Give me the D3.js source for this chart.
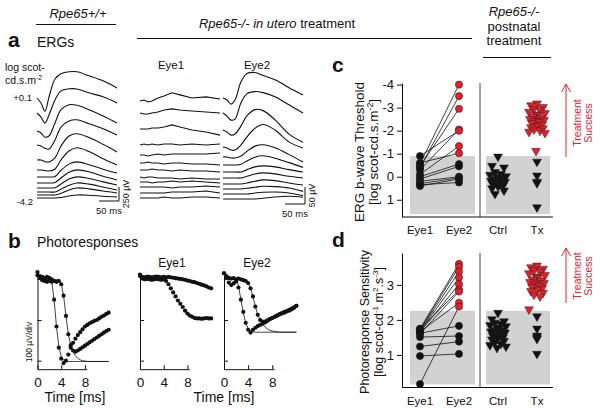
<!DOCTYPE html>
<html>
<head>
<meta charset="utf-8">
<script src="https://cdn.jsdelivr.net/npm/d3@7"></script>
<style>
  body { margin: 0; background: #fff; }
  svg { display: block; font-family: "Liberation Sans", Arial, sans-serif; }
</style>
</head>
<body>
<svg id="fig" width="600" height="408"></svg>
<script>
// ---- ERG traces (µV) sampled at these times (ms) ----
const ergTimes = [0, 10, 20, 30, 45, 60, 80, 100, 130, 165, 200];
const wtTraces = [
  [0, -90, -234, 18, 340, 432, 468, 468, 396, 306, 180],
  [0, -72, -180, -36, 234, 396, 432, 430, 360, 290, 180],
  [0, -36, -110, -90, 144, 380, 468, 460, 380, 270, 144],
  [0, -18, -60, -72, 90, 320, 430, 450, 380, 290, 180],
  [0, 0, -30, -36, 36, 250, 430, 470, 400, 280, 144],
  [0, 0, -10, -18, 18, 180, 340, 396, 330, 200, 90],
  [0, 0, 0, 0, 10, 120, 230, 270, 220, 140, 72],
  [0, 0, 0, 0, 10, 90, 190, 234, 200, 120, 54],
  [0, 0, 0, 0, 5, 70, 160, 198, 170, 110, 54],
  [0, 0, 0, 0, 0, 50, 120, 162, 140, 90, 36],
  [0, 0, 0, 0, 0, 30, 90, 126, 110, 70, 36],
  [0, 0, 0, 0, 0, 10, 36, 54, 50, 30, 18]
];
const eye1Traces = [
  [0, 3, -3, 0, 9, 15, 24, 18, 9, 12, 6],
  [0, -3, -3, 0, 3, 9, 12, 9, 6, 3, 0],
  [0, 0, 0, 3, 3, 6, 12, 6, -3, -9, -18],
  [0, 3, 0, 3, 0, 3, 3, 0, 3, 0, 3],
  [0, 0, -3, 0, 3, 0, 3, 3, 3, 3, 6],
  [0, 0, 3, 0, 0, -3, 0, 0, -3, -3, -6],
  [0, 0, 0, 3, 0, 0, -3, 0, -3, -3, -6],
  [0, -3, 0, 0, -3, -3, -3, -6, -3, -6, -6],
  [0, 0, 0, -3, 0, 0, 3, 0, 3, 0, -3],
  [0, 0, 0, 0, 0, 0, -3, 0, 0, 3, 0],
  [0, 0, 0, 0, 0, 0, 3, 3, 3, 6, 0],
  [0, 0, 0, 0, 0, 3, 0, 0, 3, 3, 0]
];
const eye2Traces = [
  [0, -6, -18, -6, 48, 72, 75, 66, 54, 30, 9],
  [0, -9, -21, -18, 30, 57, 63, 60, 48, 24, 0],
  [0, -6, -15, -12, 12, 42, 60, 57, 30, -12, -36],
  [0, -3, -9, -9, 6, 30, 55, 66, 50, 15, -3],
  [0, 0, -3, -3, 3, 17, 32, 36, 27, 7, -15],
  [0, 0, 0, 0, 2, 12, 23, 27, 20, 7, -7],
  [0, 0, 0, 0, 0, 7, 15, 18, 15, 7, 0],
  [0, 0, 0, 0, 0, 5, 12, 15, 12, 5, 0],
  [0, 0, 0, 0, 0, 3, 8, 12, 10, 3, -3],
  [0, 0, 0, 0, 0, 2, 5, 8, 7, 3, -7],
  [0, 0, 0, 0, 0, 0, 3, 5, 6, 3, -5],
  [0, 0, 0, 0, 0, 0, 0, 2, 6, 8, 5]
];
const intensityLabels = ["+0.1", "-4.2"];

// ---- photoresponses (µV) at these times (ms) ----
const prTimes = [0, 0.4, 0.8, 1.2, 1.6, 2, 2.4, 2.8, 3.2, 3.6, 4, 4.4, 4.8, 5.2, 5.6, 6,
  6.4, 6.8, 7.2, 7.6, 8, 8.4, 8.8, 9.2, 9.6, 10, 10.4, 10.8, 11.2, 11.6, 12];
const wtFast = [18, 8, 6, 4, 6, 4, 0, -50, -116, -168, -195, -206, -200, -185, -168, -156,
  -146, -137, -130, -123, -116, -112, -108, -105, -102, -100, -96, -92, -89, -85, -82];
const wtSlow = [10, 4, -2, -4, -6, -4, -6, -4, -6, -4, -12, -40, -90, -135, -162, -175,
  -178, -175, -171, -167, -163, -159, -155, -151, -147, -143, -139, -135, -131, -127, -124];
const wtFastFit = [0, 0, 0, 0, 0, 0, -4, -50, -116, -165, -190, -199, -202, -202, -202, -202,
  -202, -202, -202, -202, -202, -202, -202, -202, -202, -202, -202, -202, -202, -202, -202];
const wtSlowFit = [0, 0, 0, 0, 0, 0, 0, 0, 0, 0, -10, -40, -90, -135, -162, -178,
  -188, -194, -198, -200, -201, -202, -202, -202, -202, -202, -202, -202, -202, -202, -202];
const e1Slow = [12, 6, 5, 7, 6, 5, 6, 7, 6, 5, 6, 5, 6, 5, 4, 3,
  2, 1, 0, -1, -3, -4, -6, -7, -9, -11, -13, -15, -17, -20, -22];
const e1Fast = [8, 2, 0, 1, 0, -1, 0, 1, 0, -1, 0, -4, -12, -22, -32, -42,
  -52, -60, -68, -77, -84, -89, -92, -95, -96, -96, -97, -96, -95, -96, -96];
const e2Fast = [15, 5, -8, -14, -10, -5, -20, -50, -80, -107, -124, -131, -124, -119, -115, -112,
  -109, -106, -102, -98, -95, -92, -89, -86, -84, -82, -79, -77, -74, -70, -65];
const e2Slow = [15, 8, 4, 2, 3, 0, 2, 0, -2, -4, -9, -22, -42, -67, -87, -100,
  -104, -104, -101, -98, -95, -92, -89, -86, -83, -80, -78, -75, -72, -69, -65];
const e2FastFit = [0, 0, 0, 0, 0, 0, -15, -50, -82, -107, -121, -127, -129, -130, -130, -130,
  -130, -130, -130, -130, -130, -130, -130, -130, -130, -130, -130, -130, -130, -130, -130];
const e2SlowFit = [0, 0, 0, 0, 0, 0, 0, 0, 0, 0, -8, -22, -42, -67, -87, -100,
  -110, -117, -122, -125, -127, -128, -129, -130, -130, -130, -130, -130, -130, -130, -130];
const timeTicks = [0, 4, 8];

// ---- panel c: ERG b-wave threshold (log scot-cd.s.m-2) ----
const groups = ["Eye1", "Eye2", "Ctrl", "Tx"];
const cEye1 = [-0.55, -0.4, -0.45, -0.3, -0.9, -0.1, -0.6, 0.0, 0.1, 0.2, 0.3, 0.4, 0.35];
const cEye2 = [-4.0, -3.5, -2.95, -2.05, -2.0, -1.33, -1.02, -0.55, -0.45, 0.0, 0.05, 0.1, 0.25];
const cCtrl = [-0.87, -0.47, -0.4, -0.2, -0.12, -0.08, -0.02, 0.02, 0.05, 0.1, 0.12, 0.18, 0.22,
  0.25, 0.3, 0.33, 0.38, 0.42, 0.5, 0.6, 0.75];
const cTx = [-3.18, -3.1, -3.02, -2.96, -2.9, -2.82, -2.76, -2.7, -2.66, -2.6, -2.55, -2.5, -2.46,
  -2.42, -2.38, -2.32, -2.27, -2.2, -2.15, -2.1, -2.05, -2.0, -1.95, -1.9, -1.12,
  -0.65, -0.05, 0.22, 0.28, 1.33];
const cThreshold = -0.9;
const cTicks = [-4, -3, -2, -1, 0, 1];

// ---- panel d: photoresponse sensitivity ----
const dEye1 = [1.75, 1.72, 1.70, 1.68, 1.65, 1.73, 1.60, 1.66, 0.17, 1.62, 1.51, 1.24, 0.97];
const dEye2 = [3.6, 3.52, 3.38, 3.21, 3.02, 2.86, 2.81, 2.49, 2.38, 1.83, 1.54, 1.38, 1.03];
const dCtrl = [2.2, 2.02, 1.96, 1.92, 1.88, 1.85, 1.82, 1.78, 1.75, 1.72, 1.7, 1.67, 1.64, 1.6,
  1.57, 1.54, 1.5, 1.47, 1.44, 1.4, 1.36, 1.32, 1.28, 1.24, 1.2];
const dTx = [3.55, 3.5, 3.46, 3.42, 3.38, 3.33, 3.28, 3.24, 3.2, 3.15, 3.12, 3.08, 3.05, 3.02,
  2.98, 2.94, 2.9, 2.86, 2.82, 2.77, 2.72, 2.67, 2.3, 2.1, 1.75, 1.55, 1.5, 1.46, 1.03];
const dThreshold = 2.26;
const dTicks = [1, 2, 3];

const red = "#e5202a";
const svg = d3.select("#fig");

function txt(x, y, s, size, o = {}) {
  const t = svg.append("text")
    .attr("x", x).attr("y", y)
    .attr("font-size", size)
    .attr("text-anchor", o.anchor || "start")
    .attr("font-style", o.italic ? "italic" : null)
    .attr("font-weight", o.bold ? "bold" : null)
    .attr("fill", o.fill || "#111");
  if (o.rotate) t.attr("transform", `rotate(${o.rotate},${x},${y})`);
  if (s !== null) t.text(s);
  return t;
}
// parts: [string, isSuperscript]
function rich(t, parts, size) {
  let up = false;
  parts.forEach(([s, sup]) => {
    const sp = t.append("tspan").text(s);
    if (sup) {
      sp.attr("font-size", size * 0.65);
      if (!up) { sp.attr("dy", -size * 0.4); up = true; }
    } else if (up) { sp.attr("dy", size * 0.4); up = false; }
  });
}
function hline(x1, x2, y, col = "#111") {
  svg.append("line").attr("x1", x1).attr("x2", x2).attr("y1", y).attr("y2", y)
    .attr("stroke", col).attr("stroke-width", 1);
}

// ---- headers ----
txt(78, 18, "Rpe65+/+", 13, {anchor: "middle", italic: true});
hline(36, 116, 24.5);
const h2 = txt(277, 28, null, 13, {anchor: "middle"});
h2.append("tspan").attr("font-style", "italic").text("Rpe65-/- in utero");
h2.append("tspan").text(" treatment");
hline(137, 472, 38.5);
txt(514, 16, "Rpe65-/-", 13, {anchor: "middle", italic: true});
txt(514, 31, "postnatal", 13, {anchor: "middle"});
txt(514, 45, "treatment", 13, {anchor: "middle"});
hline(483, 551, 57.5);

// ---- panel a: ERGs ----
txt(8, 47, "a", 21, {bold: true});
txt(37, 47, "ERGs", 14);
txt(5, 71, "log scot-", 10.5);
rich(txt(5, 84, null, 10.5), [["cd.s.m", 0], ["-2", 1]], 10.5);
txt(32, 101, intensityLabels[0], 9.5, {anchor: "end"});
txt(33, 205, intensityLabels[1], 9.5, {anchor: "end"});
txt(171, 69, "Eye1", 11.5, {anchor: "middle"});
txt(257, 69, "Eye2", 11.5, {anchor: "middle"});

const tScale = d3.scaleLinear().domain([0, 200]).range([0, 80]);
const wtV = d3.scaleLinear().domain([0, 250]).range([0, 14]);
const koV = d3.scaleLinear().domain([0, 50]).range([0, 17]);

// layout: left start (baseline) of each stacked trace
const wtBase = [98, 113, 131, 145, 160, 170, 177, 183, 188, 192, 195, 198];
const eye1Base = [101, 113, 129, 145, 155, 163, 170, 177, 182, 187, 193, 198];
const eye2Base = [98, 113, 130, 147, 157, 165, 172, 178, 184, 189, 194, 199];

function drawErg(traces, x0, bases, vScale, curve) {
  const g = svg.append("g");
  traces.forEach((tr, i) => {
    const line = d3.line()
      .x((v, j) => x0 + tScale(ergTimes[j]))
      .y(v => bases[i] - vScale(v))
      .curve(curve);
    g.append("path").attr("d", line(tr))
      .attr("fill", "none").attr("stroke", "#111").attr("stroke-width", 1.1);
  });
}
drawErg(wtTraces, 37, wtBase, wtV, d3.curveCatmullRom);
drawErg(eye1Traces, 140, eye1Base, koV, d3.curveLinear);
drawErg(eye2Traces, 223, eye2Base, koV, d3.curveCatmullRom);

function scaleBar(xr, yb, vScale, vVal, vLabel) {
  const p = d3.path();
  p.moveTo(xr - tScale(50), yb); p.lineTo(xr, yb); p.lineTo(xr, yb - vScale(vVal));
  svg.append("path").attr("d", p.toString()).attr("fill", "none")
    .attr("stroke", "#111").attr("stroke-width", 1);
  txt(xr - tScale(25), yb + 13, "50 ms", 9.5, {anchor: "middle"});
  txt(xr + 10, yb - vScale(vVal) / 2, vLabel, 9, {anchor: "middle", rotate: -90});
}
scaleBar(119, 201, wtV, 250, "250 µV");
scaleBar(305, 204, koV, 50, "50 µV");

// ---- panel b: photoresponses ----
txt(8, 248, "b", 21, {bold: true});
txt(37, 247, "Photoresponses", 14);
txt(172, 267, "Eye1", 12, {anchor: "middle"});
txt(257, 267, "Eye2", 12, {anchor: "middle"});

const prY = d3.scaleLinear().domain([-221, 11]).range([369.2, 274.9]);
function drawPr(x0, pxPerMs, dots, fits) {
  const x = d3.scaleLinear().domain([0, 12]).range([x0, x0 + 12 * pxPerMs]);
  const g = svg.append("g");
  g.append("g").attr("transform", `translate(${x0},0)`)
    .call(d3.axisLeft(prY).tickValues([-100, -200]).tickSize(-4).tickSizeOuter(0).tickFormat(""));
  const xa = x.copy().domain([0, 8.3]).range([x(0), x(8.3)]);
  g.append("g").attr("transform", `translate(0,${prY(-221)})`)
    .call(d3.axisBottom(xa).tickValues(timeTicks).tickSize(-4).tickSizeOuter(0).tickPadding(8))
    .call(a => a.selectAll("text").attr("font-size", 13.5).attr("fill", "#111"))
    .attr("font-family", null);
  g.selectAll(".domain, .tick line").attr("stroke", "#111");
  fits.forEach(f => {
    g.append("path").attr("d", d3.line().x((v, j) => x(prTimes[j])).y(v => prY(v))(f))
      .attr("fill", "none").attr("stroke", "#111").attr("stroke-width", 0.8);
  });
  dots.forEach(s => {
    g.append("g").selectAll("circle").data(s).join("circle")
      .attr("cx", (v, j) => x(prTimes[j])).attr("cy", v => prY(v))
      .attr("r", 2.1).attr("fill", "#111");
  });
}
drawPr(37.5, 5.93, [wtFast, wtSlow], [wtFastFit, wtSlowFit]);
drawPr(140, 5.93, [e1Slow, e1Fast], []);
drawPr(224, 6.03, [e2Fast, e2Slow], [e2FastFit, e2SlowFit]);
txt(32, 342, "100 µV/div", 8.5, {anchor: "middle", rotate: -90});
txt(75, 402, "Time [ms]", 14, {anchor: "middle"});
txt(224, 402, "Time [ms]", 14, {anchor: "middle"});

// ---- panels c, d: scatter ----
const gx = d3.scalePoint().domain(groups).range([420, 537]);
const jitter = [0, -6, 6, -3, 3, -8, 8, -1, 1, -4, 4, -7, 7, -2, 2, -5, 5];
const tri = d3.symbol().type(d3.symbolTriangle).size(34);

function drawScatter(y, ticks, eye1, eye2, ctrl, tx, isRed) {
  const g = svg.append("g");
  const yb = y.range()[0], yt = y.range()[1];
  const thr = isRed.t;
  g.append("rect").attr("x", 410).attr("width", 65)
    .attr("y", y(thr)).attr("height", yb - 3 - y(thr)).attr("fill", "#d2d2d2");
  g.append("rect").attr("x", 486).attr("width", 64)
    .attr("y", y(thr)).attr("height", yb - 3 - y(thr)).attr("fill", "#d2d2d2");
  g.append("line").attr("x1", 480).attr("x2", 480).attr("y1", yt).attr("y2", yb)
    .attr("stroke", "#444").attr("stroke-width", 1);
  g.append("g").attr("transform", "translate(402,0)")
    .call(d3.axisLeft(y).tickValues(ticks).tickSize(5).tickSizeOuter(0).tickFormat(d => String(d)))
    .call(a => a.selectAll("text").attr("font-size", 13).attr("fill", "#111"))
    .call(a => a.selectAll(".domain, .tick line").attr("stroke", "#111"))
    .attr("font-family", null);
  g.append("line").attr("x1", 402).attr("x2", 553).attr("y1", yb).attr("y2", yb)
    .attr("stroke", "#111");
  groups.forEach(k => {
    g.append("text").attr("x", gx(k)).attr("y", yb + 17).attr("text-anchor", "middle")
      .attr("font-size", 11.5).attr("fill", "#111").text(k);
  });
  eye1.forEach((v, i) => {
    g.append("line").attr("x1", gx("Eye1")).attr("y1", y(v))
      .attr("x2", gx("Eye2")).attr("y2", y(eye2[i]))
      .attr("stroke", "#111").attr("stroke-width", 0.8);
  });
  const dot = (cx, v) => g.append("circle").attr("cx", cx).attr("cy", y(v)).attr("r", 3.6)
    .attr("fill", isRed(v) ? red : "#111").attr("stroke", "#222").attr("stroke-width", 0.6);
  eye1.forEach(v => dot(gx("Eye1"), v));
  eye2.forEach(v => dot(gx("Eye2"), v));
  const triangle = (cx, v) => g.append("path").attr("d", tri())
    .attr("transform", `translate(${cx},${y(v)}) rotate(180)`)
    .attr("fill", isRed(v) ? red : "#111").attr("stroke", "#222").attr("stroke-width", 0.5);
  ctrl.forEach((v, i) => triangle(gx("Ctrl") + jitter[i % jitter.length], v));
  tx.forEach((v, i) => triangle(gx("Tx") + (isRed(v) ? jitter[i % jitter.length] : 0), v));
}

const cY = d3.scaleLinear().domain([1.75, -4.07]).range([217, 83]);
const cRed = v => v < cThreshold; cRed.t = cThreshold;
drawScatter(cY, cTicks, cEye1, cEye2, cCtrl, cTx, cRed);
const dY = d3.scaleLinear().domain([0.07, 3.91]).range([387.5, 253]);
const dRed = v => v > dThreshold; dRed.t = dThreshold;
drawScatter(dY, dTicks, dEye1, dEye2, dCtrl, dTx, dRed);

txt(332, 72, "c", 21, {bold: true});
txt(332, 247, "d", 21, {bold: true});
txt(364, 152, "ERG b-wave Threshold", 13.5, {anchor: "middle", rotate: -90});
rich(txt(378, 152, null, 13.5, {anchor: "middle", rotate: -90}),
  [["[log scot-cd.s.m", 0], ["-2", 1], ["]", 0]], 13.5);
txt(369, 322, "Photoresponse Sensitivity", 12.5, {anchor: "middle", rotate: -90});
rich(txt(383, 322, null, 12.5, {anchor: "middle", rotate: -90}),
  [["[log scot-cd", 0], ["-1", 1], [".m", 0], ["2", 1], [".s", 0], ["-3", 1], ["]", 0]], 12.5);

function success(yTop, yBot, yMid) {
  svg.append("line").attr("x1", 566).attr("x2", 566).attr("y1", yTop).attr("y2", yBot)
    .attr("stroke", red).attr("stroke-width", 1);
  svg.append("path").attr("d", `M561.5,${yTop + 8} L566,${yTop} L570.5,${yTop + 8}`)
    .attr("fill", "none").attr("stroke", red).attr("stroke-width", 1);
  txt(581, yMid, "Treatment", 10.5, {anchor: "middle", rotate: -90, fill: red});
  txt(592, yMid, "Success", 10.5, {anchor: "middle", rotate: -90, fill: red});
}
success(84, 157, 123);
success(248, 303, 276);
</script>
</body>
</html>
